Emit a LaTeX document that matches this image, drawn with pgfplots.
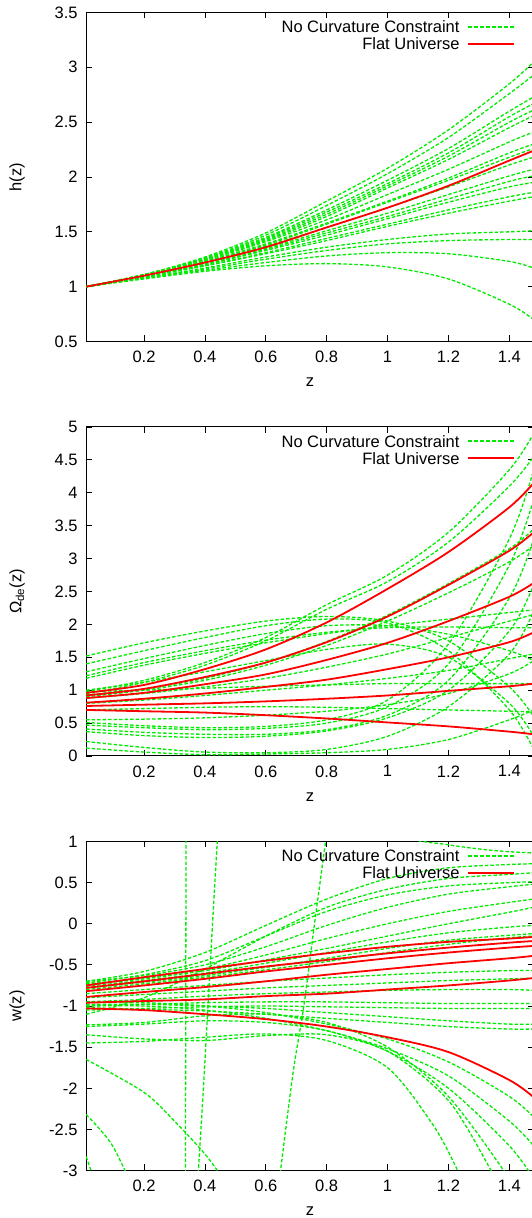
\documentclass[border=0pt]{standalone}
\usepackage{fontspec}
\setmainfont{Liberation Sans}
\usepackage{pgfplots}
\usepackage{pgfplotstable}
\pgfplotsset{compat=1.18}
\definecolor{gpgreen}{RGB}{0,235,0}
\definecolor{gpred}{RGB}{255,0,0}

% h(z)
\pgfplotstableread{
z    g1   g2   g3   g4   g5   g6   g7   g8   g9   g10  g11  g12  g13  g14  g15  g16  g17  g18  g19  r1
0.01 1.00 1.00 1.00 1.00 1.00 1.00 1.00 1.00 1.00 1.00 1.00 1.00 1.00 1.00 1.00 1.00 1.00 1.00 1.00 1.00
0.2  1.11 1.11 1.11 1.11 1.10 1.10 1.10 1.10 1.10 1.10 1.09 1.09 1.09 1.09 1.09 1.08 1.08 1.08 1.07 1.10
0.4  1.27 1.26 1.26 1.25 1.25 1.24 1.24 1.23 1.23 1.22 1.21 1.20 1.20 1.19 1.19 1.17 1.16 1.15 1.14 1.22
0.6  1.49 1.47 1.45 1.44 1.43 1.42 1.41 1.39 1.38 1.37 1.35 1.34 1.33 1.31 1.30 1.27 1.25 1.22 1.19 1.36
0.8  1.78 1.74 1.70 1.68 1.66 1.64 1.61 1.58 1.57 1.54 1.51 1.49 1.47 1.44 1.42 1.36 1.33 1.28 1.21 1.54
1.0  2.08 2.03 1.97 1.94 1.92 1.90 1.84 1.78 1.77 1.72 1.67 1.64 1.62 1.57 1.55 1.43 1.39 1.31 1.18 1.72
1.2  2.43 2.36 2.26 2.22 2.19 2.16 2.07 1.99 1.97 1.91 1.84 1.80 1.77 1.70 1.67 1.48 1.42 1.30 1.07 1.92
1.4  2.85 2.76 2.60 2.55 2.50 2.45 2.32 2.22 2.18 2.11 2.01 1.96 1.91 1.82 1.78 1.50 1.43 1.23 0.84 2.15
1.48 3.05 2.93 2.73 2.67 2.61 2.56 2.41 2.30 2.26 2.18 2.07 2.01 1.95 1.86 1.82 1.51 1.43 1.17 0.70 2.24
}\hdata

% Omega_de(z)
\pgfplotstableread{
z    g1   g2   g3   g4   g5   g6   g7   g8   g9   g10  g11  g12  g13  g14  g15  g16  g17  g18  g19  g20  g21  r1   r2   r3   r4   r5   r6
0.01 0.98 0.95 0.93 0.90 0.51 0.47 0.41 0.37 0.22 0.12 1.52 1.40 1.28 1.22 1.18 0.98 0.70 0.55 0.80 0.88 1.00 0.96 0.92 0.88 0.81 0.76 0.70
0.2  1.15 1.12 1.02 1.00 0.46 0.43 0.36 0.31 0.13 0.06 1.72 1.60 1.48 1.42 1.38 1.00 0.72 0.56 0.85 0.95 1.12 1.08 1.02 0.96 0.87 0.78 0.68
0.4  1.42 1.38 1.18 1.15 0.43 0.40 0.33 0.28 0.06 0.02 1.90 1.80 1.68 1.60 1.56 1.03 0.74 0.58 0.92 1.05 1.28 1.32 1.20 1.09 0.95 0.80 0.66
0.6  1.80 1.75 1.42 1.38 0.45 0.42 0.33 0.30 0.05 0.03 2.05 1.98 1.86 1.76 1.72 1.06 0.75 0.62 1.00 1.18 1.45 1.62 1.42 1.24 1.05 0.83 0.62
0.8  2.30 2.23 1.74 1.68 0.55 0.50 0.40 0.38 0.10 0.05 2.12 2.08 1.98 1.88 1.86 1.08 0.74 0.68 1.08 1.35 1.62 2.03 1.73 1.46 1.16 0.87 0.57
1.0  2.75 2.65 2.14 2.05 0.85 0.75 0.62 0.58 0.30 0.10 2.05 2.02 1.98 1.95 1.98 1.10 0.72 0.78 1.18 1.55 1.70 2.54 2.12 1.72 1.32 0.92 0.51
1.2  3.40 3.25 2.62 2.48 1.70 1.40 1.15 1.00 0.75 0.25 1.75 1.60 1.85 1.96 2.08 1.10 0.70 0.95 1.30 1.80 1.50 3.10 2.60 2.05 1.50 0.99 0.45
1.4  4.35 4.10 3.15 2.95 3.30 2.90 2.40 1.90 1.55 0.55 1.05 0.70 1.60 1.95 2.18 1.10 0.68 1.25 1.48 2.05 0.80 3.78 3.12 2.42 1.73 1.06 0.37
1.48 4.90 4.55 3.45 3.20 4.35 3.90 3.30 2.60 2.20 0.70 0.60 0.10 1.45 1.95 2.22 1.10 0.67 1.45 1.55 2.15 0.30 4.15 3.40 2.63 1.88 1.10 0.33
}\odata

% w(z)
\pgfplotstableread{
z    g1    g2    g3    g4    g5    g6    g7    g8    g9    g10   g11   g12   g13   g14   g15   g16   g17   g18   g19   g20   r1    r2    r3    r4    r5    r6
0.01 -0.70 -0.72 -0.70 -0.73 -0.74 -0.76 -0.78 -0.80 -0.85 -0.90 -0.95 -1.00 -1.05 -0.98 -1.02 -1.00 -0.95 -1.25 -1.23 -1.10 -0.75 -0.78 -0.82 -0.89 -0.96 -1.03
0.2  -0.58 -0.62 -0.63 -0.66 -0.67 -0.69 -0.71 -0.73 -0.80 -0.86 -0.92 -0.98 -1.03 -0.98 -1.04 -1.00 -0.96 -1.22 -1.20 -0.90 -0.65 -0.70 -0.75 -0.83 -0.94 -1.05
0.4  -0.35 -0.45 -0.50 -0.55 -0.57 -0.60 -0.63 -0.65 -0.75 -0.82 -0.88 -0.96 -1.01 -1.00 -1.06 -1.05 -1.00 -1.18 -1.12 -0.55 -0.55 -0.61 -0.67 -0.77 -0.92 -1.10
0.6  -0.02 -0.15 -0.28 -0.38 -0.44 -0.48 -0.53 -0.56 -0.70 -0.78 -0.85 -0.95 -1.00 -1.03 -1.10 -1.15 -1.08 -1.20 -1.10 -0.15 -0.45 -0.52 -0.58 -0.70 -0.88 -1.16
0.8   0.30  0.15 -0.02 -0.18 -0.30 -0.35 -0.42 -0.46 -0.66 -0.75 -0.83 -0.95 -1.01 -1.08 -1.15 -1.30 -1.22 -1.30 -1.20  0.20 -0.36 -0.44 -0.50 -0.62 -0.85 -1.25
1.0   0.55  0.35  0.20  0.00 -0.15 -0.22 -0.30 -0.35 -0.62 -0.72 -0.81 -0.96 -1.02 -1.13 -1.20 -1.52 -1.40 -1.55 -1.50  0.42 -0.28 -0.36 -0.42 -0.55 -0.80 -1.38
1.2   0.68  0.46  0.36  0.15  0.00 -0.11 -0.20 -0.25 -0.59 -0.69 -0.80 -0.97 -1.03 -1.18 -1.25 -1.85 -1.68 -2.00 -2.10  0.55 -0.22 -0.29 -0.35 -0.48 -0.75 -1.56
1.4   0.72  0.50  0.45  0.26  0.14 -0.04 -0.14 -0.17 -0.57 -0.67 -0.80 -0.97 -1.03 -1.22 -1.28 -2.40 -2.10 -2.70 -3.10  0.60 -0.18 -0.23 -0.29 -0.42 -0.69 -1.90
1.48  0.73  0.51  0.48  0.30  0.20 -0.02 -0.12 -0.15 -0.57 -0.66 -0.81 -0.97 -1.03 -1.22 -1.28 -2.70 -2.35 -3.10 -3.60  0.62 -0.16 -0.21 -0.27 -0.39 -0.66 -2.11
}\wdata

\pgfplotsset{
  gp/.style={
    scale only axis, width=447.5pt, height=329pt,
    xmin=0.01, xmax=1.48,
    xtick={0.2,0.4,0.6,0.8,1,1.2,1.4},
    tick align=inside, major tick length=6pt,
    every tick/.style={black, line width=0.8pt},
    axis line style={line width=1pt},
    font=\fontsize{16.5}{19}\selectfont,
    /pgf/number format/assume math mode=true,
    xlabel={z},
    every axis x label/.style={at={(axis description cs:0.5,0)}, anchor=center, yshift=-41pt},
    every axis y label/.style={at={(axis description cs:0,0.5)}, xshift=-69pt, anchor=center, rotate=90},
    xticklabel style={yshift=-6pt},
    yticklabel style={xshift=-5pt},
    legend plot pos=right, legend cell align=right,
    legend style={draw=none, fill=none, at={(1,1)}, anchor=north east,
      xshift=-19pt, yshift=-6pt, inner sep=0pt, row sep=0pt,
      nodes={inner sep=2pt, text height=12pt, text depth=1pt},
      /tikz/every odd column/.style={column sep=5pt}},
  },
  gline/.style={draw=gpgreen, line width=1.3pt, dash pattern=on 3.5pt off 2pt, smooth},
  rline/.style={draw=gpred, line width=1.8pt, smooth},
}
% the two key samples
\newcommand{\gpkey}{%
  \addlegendimage{legend image code/.code={\draw[gpgreen, line width=2pt, dash pattern=on 4pt off 2pt] (0pt,0.5pt) -- (46pt,0.5pt);}}
  \addlegendentry{No Curvature Constraint}
  \addlegendimage{legend image code/.code={\draw[gpred, line width=2pt] (0pt,0.5pt) -- (46pt,0.5pt);}}
  \addlegendentry{Flat Universe}}

\begin{document}
\begin{tikzpicture}
\useasboundingbox (0,0) rectangle (532pt,1218pt);
\begin{scope}[overlay]

% panel 1
\begin{axis}[gp, at={(86.2pt,876.5pt)}, anchor=south west,
  ymin=0.5, ymax=3.5, ytick={0.5,1,1.5,2,2.5,3,3.5}, ylabel={h(z)}]
\gpkey
\pgfplotsinvokeforeach{1,...,19}{\addplot[gline, forget plot] table[x=z,y=g#1]{\hdata};}
\addplot[rline, forget plot] table[x=z,y=r1]{\hdata};
\end{axis}

% panel 2
\begin{axis}[gp, at={(86.2pt,462pt)}, anchor=south west,
  ymin=0, ymax=5, ytick={0,0.5,1,1.5,2,2.5,3,3.5,4,4.5,5}, ylabel={Ω\textsubscript{de}(z)}]
\gpkey
\pgfplotsinvokeforeach{1,...,21}{\addplot[gline, forget plot] table[x=z,y=g#1]{\odata};}
\pgfplotsinvokeforeach{1,...,6}{\addplot[rline, forget plot] table[x=z,y=r#1]{\odata};}
\end{axis}

% panel 3
\begin{axis}[gp, at={(86.2pt,47.5pt)}, anchor=south west,
  ymin=-3, ymax=1, ytick={-3,-2.5,-2,-1.5,-1,-0.5,0,0.5,1}, ylabel={w(z)}]
\gpkey
\pgfplotsinvokeforeach{1,...,20}{\addplot[gline, forget plot] table[x=z,y=g#1]{\wdata};}
\addplot[gline, forget plot] coordinates {(0.01,-1.35)(0.2,-1.40)(0.4,-1.42)(0.6,-1.36)(0.8,-1.35)(1.0,-1.55)(1.2,-2.15)(1.34,-3.0)(1.38,-3.3)};
\addplot[gline, forget plot] coordinates {(0.01,-1.45)(0.2,-1.43)(0.4,-1.38)(0.6,-1.34)(0.8,-1.42)(1.0,-1.75)(1.15,-2.45)(1.23,-3.0)(1.26,-3.3)};
\addplot[gline, forget plot] coordinates {(0.01,-1.65)(0.2,-2.05)(0.3,-2.40)(0.4,-2.80)(0.46,-3.1)};
\addplot[gline, forget plot] coordinates {(0.01,-2.32)(0.06,-2.52)(0.10,-2.72)(0.15,-3.1)};
\addplot[gline, forget plot] coordinates {(0.01,-2.83)(0.035,-3.1)};
\addplot[gline, forget plot] coordinates {(0.336,-3.1)(0.338,1.1)};
\addplot[gline, forget plot] coordinates {(0.377,-3.1)(0.395,-2.0)(0.41,-1.0)(0.425,0)(0.442,1.1)};
\addplot[gline, forget plot] coordinates {(0.645,-3.1)(0.69,-1.8)(0.725,-1.0)(0.76,0)(0.80,1.1)};
\addplot[gline, forget plot] coordinates {(0.97,1.6)(1.05,1.08)(1.2,0.96)(1.35,0.89)(1.48,0.86)};
\pgfplotsinvokeforeach{1,...,6}{\addplot[rline, forget plot] table[x=z,y=r#1]{\wdata};}
\end{axis}

\end{scope}
\end{tikzpicture}
\end{document}
